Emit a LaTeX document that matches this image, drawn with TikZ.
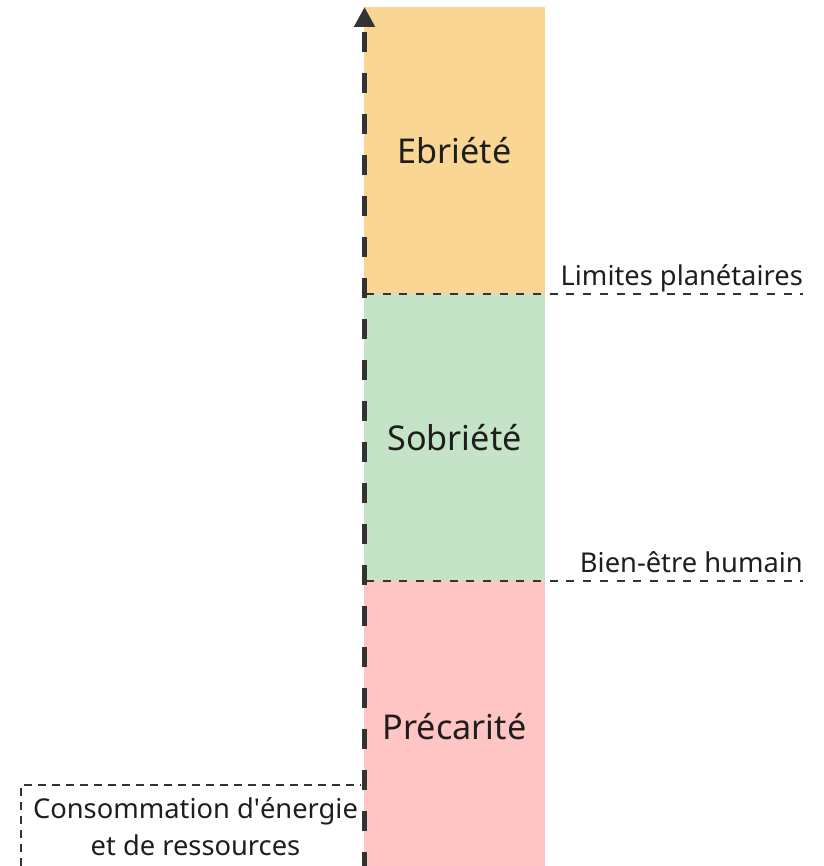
\documentclass[tikz,border=0pt]{standalone}
\usepackage{fontspec}
\setmainfont{Noto Sans}
\usetikzlibrary{arrows.meta}
\definecolor{ebr}{HTML}{FAD694}
\definecolor{sob}{HTML}{C5E3C6}
\definecolor{pre}{HTML}{FFC4C4}
\definecolor{txt}{HTML}{1E1E1E}
\definecolor{axc}{HTML}{333333}
\newcommand{\straightapos}{\XeTeXglyph\XeTeXcharglyph"27\relax}
\tikzset{
  zone/.style={draw=none, fill=#1},
  biglabel/.style={text=txt, font=\fontsize{34.2}{40}\selectfont, inner sep=0pt},
  smalllabel/.style={text=txt, font=\fontsize{27.3}{37}\selectfont, inner sep=0pt},
  limitline/.style={draw=axc, line width=1.8pt, dash pattern=on 8pt off 8.7pt},
  boxline/.style={draw=axc, line width=1.8pt, dash pattern=on 8pt off 6pt},
  axisline/.style={draw=axc, line width=5pt, dash pattern=on 20pt off 21pt, dash phase=6pt, -{Triangle[length=20pt,width=20pt]}}
}
\begin{document}
\begin{tikzpicture}[x=1pt,y=-1pt]
\useasboundingbox (0,0) rectangle (823,866);
% zones
\fill[ebr] (364,7) rectangle (545,294);
\fill[sob] (364,294) rectangle (545,581);
\fill[pre] (364,581) rectangle (545,866);
% zone labels
\node[biglabel] (ebriete) at (454.5,151) {Ebriété};
\node[biglabel] (sobriete) at (454.5,438) {Sobriété};
\node[biglabel] (precarite) at (454.5,727) {Précarité};
% threshold lines
\coordinate (lpA) at (366,294);
\coordinate (lpB) at (803,294);
\coordinate (bhA) at (366,581);
\coordinate (bhB) at (803,581);
\draw[limitline] (lpA) -- (lpB);
\draw[limitline] (bhA) -- (bhB);
\node[smalllabel, anchor=base east] (limites) at (803,285) {Limites planétaires};
\node[smalllabel, anchor=base east] (bienetre) at (803,572) {Bien-être humain};
% bottom-left label box
\coordinate (bxA) at (21,866);
\coordinate (bxB) at (21,785);
\coordinate (bxC) at (361,785);
\draw[boxline] (bxA) -- (bxB) -- (bxC);
\node[smalllabel, align=center, anchor=base] (conso) at (195.5,855) {Consommation d\straightapos énergie\\et de ressources};
% axis
\coordinate (axBot) at (364.5,866);
\coordinate (axTop) at (364.5,7);
\draw[axisline] (axBot) -- (axTop);
\end{tikzpicture}
\end{document}
